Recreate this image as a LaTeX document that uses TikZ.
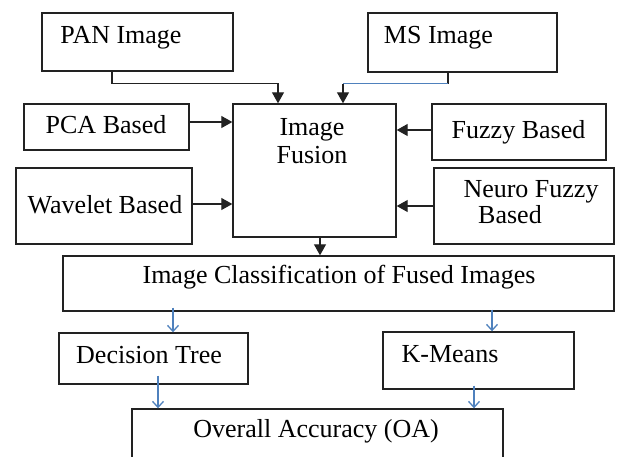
\documentclass[tikz,border=0pt]{standalone}
\usepackage{fontspec}
\setmainfont{Liberation Serif}
\usetikzlibrary{arrows.meta}
\definecolor{edge}{HTML}{222222}
\definecolor{blueline}{HTML}{4F81BD}
\begin{document}
\begin{tikzpicture}[x=1pt,y=-1pt,
  box/.style={draw=edge, line width=1.4pt, rectangle, inner sep=0pt},
  txt/.style={anchor=base, inner sep=0pt, font=\fontsize{26}{29}\selectfont, text=black},
  arr/.style={draw=edge, line width=1.2pt, -{Triangle[length=11pt,width=12pt]}},
  barr/.style={draw=blueline, line width=1.3pt, -{Straight Barb[length=6pt,width=11pt]}}]
\useasboundingbox (0,0) rectangle (617,456);
\clip (0,0) rectangle (617,456);
% boxes
\node[box, minimum width=191pt, minimum height=58pt] (pan) at (137.5,42) {};
\node[box, minimum width=189pt, minimum height=59pt] (ms) at (462.5,42.5) {};
\node[box, minimum width=165pt, minimum height=46pt] (pca) at (106.5,127) {};
\node[box, minimum width=176pt, minimum height=76pt] (wav) at (104,206) {};
\node[box, minimum width=163pt, minimum height=133pt] (fusion) at (314.5,170.5) {};
\node[box, minimum width=174pt, minimum height=56pt] (fuzzy) at (519,132) {};
\node[box, minimum width=180pt, minimum height=76pt] (neuro) at (524,206) {};
\node[box, minimum width=551pt, minimum height=55pt] (class) at (338.5,283.5) {};
\node[box, minimum width=189pt, minimum height=51pt] (dt) at (153.5,358.5) {};
\node[box, minimum width=191pt, minimum height=57pt] (km) at (478.5,360.5) {};
\node[box, minimum width=371pt, minimum height=61pt] (oa) at (317.5,439.5) {};
% texts
\node[txt] (pant) at (121,43) {PAN Image};
\node[txt] (mst) at (438.5,43) {MS Image};
\node[txt] (pcat) at (106,133) {PCA Based};
\node[txt] (wavt) at (105,213) {Wavelet Based};
\node[txt] (fusiont1) at (312,135) {Image};
\node[txt] (fusiont2) at (312,163) {Fusion};
\node[txt] (fuzzyt) at (518.5,138) {Fuzzy Based};
\node[txt] (neurot1) at (531,197) {Neuro Fuzzy};
\node[txt] (neurot2) at (510,223) {Based};
\node[txt] (classt) at (339,283) {Image Classification of Fused Images};
\node[txt] (dtt) at (149,363) {Decision Tree};
\node[txt] (kmt) at (450,362) {K-Means};
\node[txt] (oat) at (316,437) {Overall Accuracy (OA)};
% helper coordinates
\coordinate (panout) at ([xshift=-25.5pt]pan.south);
\coordinate (panin) at ([xshift=-36.5pt]fusion.north);
\coordinate (msout) at ([xshift=-14.5pt]ms.south);
\coordinate (msknee) at ([yshift=-11pt]msout);
\coordinate (msin) at ([xshift=28.5pt]fusion.north);
% black connectors
\draw[arr] (panout) -- ++(0,12) -| (panin);
\draw[draw=edge, line width=1.2pt] (msout) -- (msknee);
\draw[draw=blueline, line width=1.2pt] (msknee) -- (msknee -| msin);
\draw[arr] (msknee -| msin) -- (msin);
\draw[arr] ([yshift=5pt]pca.east) -- ([yshift=5pt]pca.east -| fusion.west);
\draw[arr] ([yshift=2pt]wav.east) -- ([yshift=2pt]wav.east -| fusion.west);
\draw[arr] ([yshift=2pt]fuzzy.west) -- ([yshift=2pt]fuzzy.west -| fusion.east);
\draw[arr] (neuro.west) -- (neuro.west -| fusion.east);
\draw[arr] ([xshift=5.5pt]fusion.south) -- ([xshift=5.5pt]fusion.south |- class.north);
% blue connectors
\draw[barr] ([xshift=19.5pt,yshift=4pt]dt.north |- class.south) -- ([xshift=19.5pt]dt.north);
\draw[barr] ([xshift=13.5pt,yshift=2pt]km.north |- class.south) -- ([xshift=13.5pt]km.north);
\draw[barr] ([xshift=4.5pt,yshift=9pt]dt.south) -- ([xshift=4.5pt]dt.south |- oa.north);
\draw[barr] ([xshift=-4.5pt,yshift=4pt]km.south) -- ([xshift=-4.5pt]km.south |- oa.north);
\end{tikzpicture}
\end{document}
